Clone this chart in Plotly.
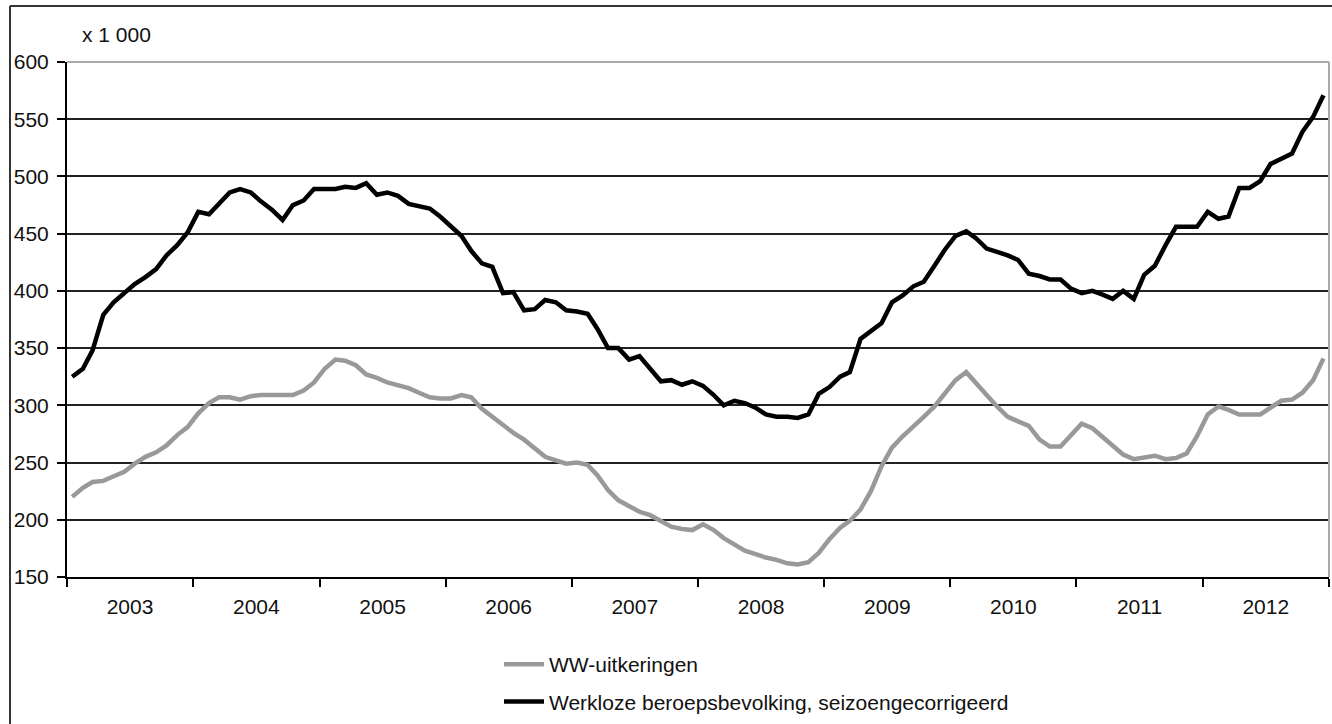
import pandas as pd
import plotly.graph_objects as go

# Monthly data Jan 2003 .. Dec 2012 (x 1 000)
months = pd.date_range("2003-01-01", periods=120, freq="MS") + pd.Timedelta(days=15)

ww_uitkeringen = [
    220, 228, 233, 234, 238, 242, 249, 255, 259, 265, 274, 281,
    293, 302, 307, 307, 305, 308, 309, 309, 309, 309, 313, 320,
    332, 340, 339, 335, 327, 324, 320, 318, 315, 311, 307, 306,
    306, 309, 307, 297, 290, 284, 276, 270, 263, 255, 252, 249,
    250, 248, 239, 226, 217, 212, 207, 204, 199, 194, 192, 191,
    196, 191, 184, 178, 173, 170, 167, 165, 162, 161, 163, 171,
    183, 193, 199, 209, 225, 247, 263, 273, 281, 290, 299, 311,
    322, 329, 319, 309, 299, 290, 286, 282, 270, 264, 264, 274,
    284, 280, 273, 264, 257, 253, 254, 256, 253, 254, 258, 273,
    292, 299, 296, 292, 292, 292, 298, 304, 305, 311, 322, 341,
]

werkloze_beroepsbevolking = [
    325, 332, 348, 379, 390, 398, 406, 412, 419, 431, 440, 451,
    469, 467, 476, 486, 489, 486, 478, 471, 462, 475, 479, 489,
    489, 489, 491, 490, 494, 484, 486, 483, 476, 474, 472, 465,
    457, 448, 435, 424, 421, 398, 399, 383, 384, 392, 390, 383,
    382, 380, 367, 350, 350, 340, 343, 332, 321, 322, 318, 321,
    317, 309, 300, 304, 302, 298, 292, 290, 290, 289, 292, 310,
    316, 325, 329, 358, 365, 372, 390, 396, 404, 408, 422, 436,
    448, 452, 446, 437, 434, 431, 427, 415, 413, 410, 410, 402,
    398, 400, 397, 393, 400, 393, 414, 422, 440, 456, 456, 456,
    469, 463, 465, 490, 490, 496, 511, 516, 520, 539, 552, 571,
]

series_names = ["WW-uitkeringen", "Werkloze beroepsbevolking, seizoengecorrigeerd"]
y_ticks = [150, 200, 250, 300, 350, 400, 450, 500, 550, 600]
unit_label = "x 1 000"

FONT = "Arial, 'Liberation Sans', sans-serif"
FS = 21
W, H = 1332, 724
L, R, T, B = 67, 3, 62, 146
pw, ph = W - L - R, H - T - B

def px_x(px):
    return (px - L) / pw

def px_y(py):
    return (H - B - py) / ph

fig = go.Figure()
fig.add_trace(go.Scatter(
    x=months, y=ww_uitkeringen, mode="lines", name=series_names[0],
    line=dict(color="#999999", width=4.5), legendgroup="a",
))
fig.add_trace(go.Scatter(
    x=months, y=werkloze_beroepsbevolking, mode="lines", name=series_names[1],
    line=dict(color="#000000", width=4.5), legendgroup="b",
))

fig.update_layout(
    width=W, height=H,
    margin=dict(l=L, r=R, t=T, b=B, pad=0),
    paper_bgcolor="white", plot_bgcolor="white",
    font=dict(family=FONT, size=FS, color="#111111"),
    showlegend=True,
    legend=dict(
        x=px_x(499), y=px_y(644), xanchor="left", yanchor="top",
        orientation="v", traceorder="grouped", tracegroupgap=7,
        font=dict(family=FONT, size=FS, color="#111111"),
        bgcolor="rgba(0,0,0,0)", itemwidth=40,
    ),
    xaxis=dict(
        type="date",
        range=["2003-01-01", "2013-01-01"],
        tick0="2003-01-01", dtick="M12",
        ticklabelmode="period", tickformat="%Y",
        ticks="outside", ticklen=8, tickwidth=2, tickcolor="#000000",
        showline=True, linecolor="#000000", linewidth=2,
        showgrid=False, zeroline=False,
        ticklabelstandoff=2,
    ),
    yaxis=dict(
        range=[150, 600], tickvals=y_ticks,
        ticks="outside", ticklen=8, tickwidth=2, tickcolor="#000000",
        showline=True, linecolor="#000000", linewidth=2,
        showgrid=True, gridcolor="#222222", gridwidth=1.5,
        zeroline=False, ticklabelstandoff=4,
    ),
    shapes=[
        # plot-area frame (top, right) in grey
        dict(type="line", xref="paper", yref="paper", x0=0, x1=1, y0=1, y1=1,
             line=dict(color="#aaaaaa", width=2), layer="above"),
        dict(type="line", xref="paper", yref="paper", x0=1, x1=1, y0=0, y1=1,
             line=dict(color="#aaaaaa", width=2), layer="above"),
        # outer chart frame (left, top)
        dict(type="line", xref="paper", yref="paper",
             x0=px_x(10), x1=px_x(10), y0=px_y(6), y1=px_y(730),
             line=dict(color="#333333", width=2)),
        dict(type="line", xref="paper", yref="paper",
             x0=px_x(10), x1=px_x(1340), y0=px_y(6), y1=px_y(6),
             line=dict(color="#333333", width=2)),
    ],
    annotations=[
        dict(text=unit_label, xref="paper", yref="paper", x=px_x(80), y=px_y(34),
             xanchor="left", yanchor="middle", showarrow=False,
             font=dict(family=FONT, size=FS, color="#111111")),
    ],
)

fig.write_html(
    "out.html",
    config={"displayModeBar": False},
    post_script="document.body.style.margin='0';document.body.style.overflow='hidden';",
)
